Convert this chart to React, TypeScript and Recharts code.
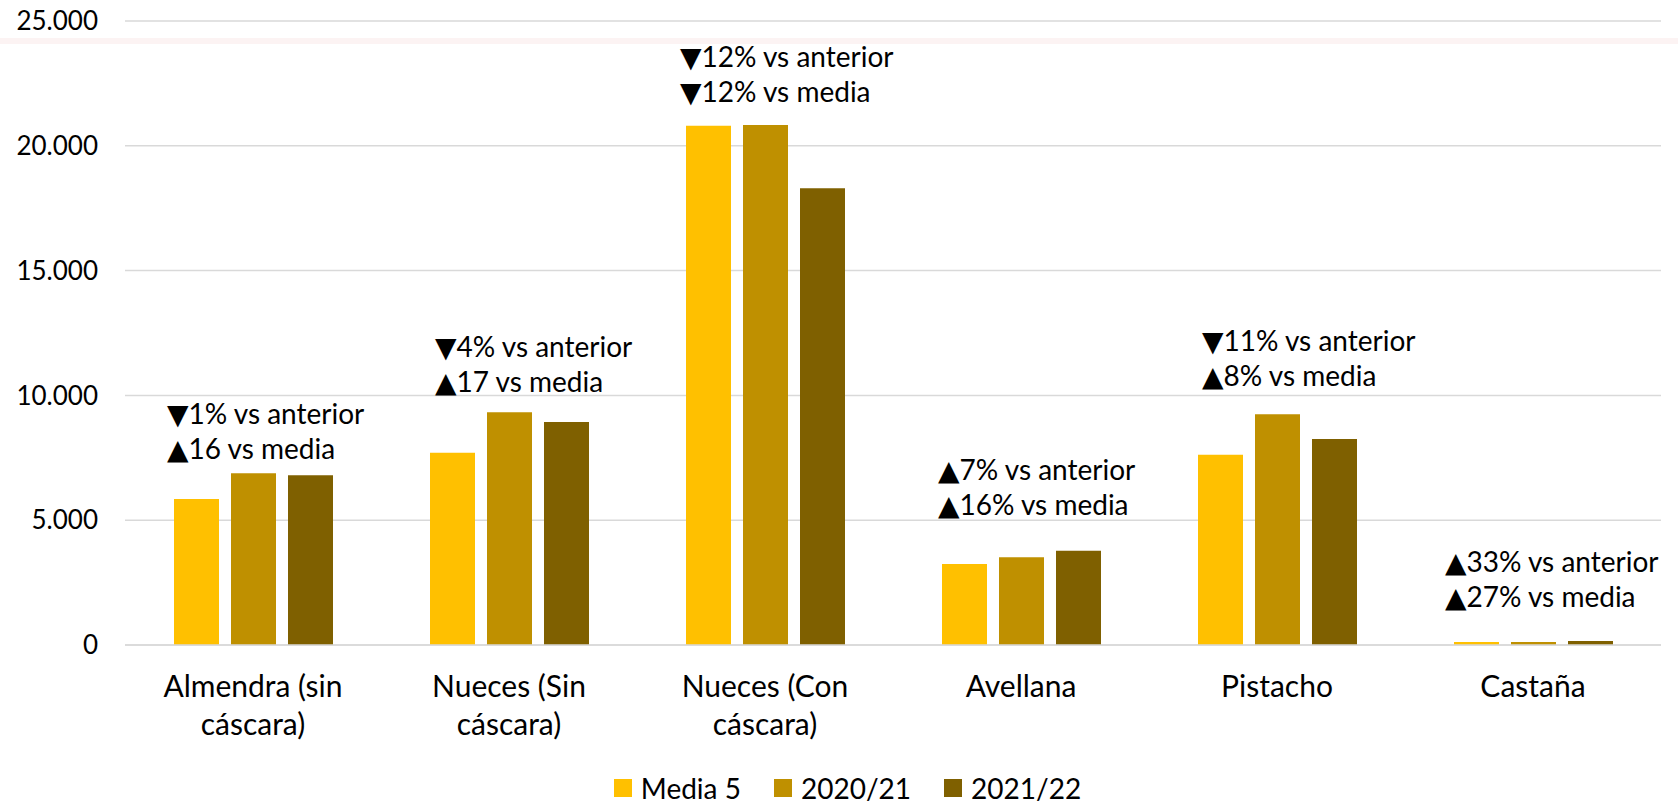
import React from "react";
import {
  BarChart,
  Bar,
  XAxis,
  YAxis,
  CartesianGrid,
  Legend,
  ReferenceDot,
} from "recharts";

const categories = [
  "Almendra (sin cáscara)",
  "Nueces (Sin cáscara)",
  "Nueces (Con cáscara)",
  "Avellana",
  "Pistacho",
  "Castaña",
];
const media5 = [5850, 7700, 20800, 3250, 7620, 125];
const season2021 = [6880, 9320, 20830, 3520, 9240, 120];
const season2122 = [6800, 8930, 18300, 3780, 8250, 160];
const vsAnterior = [
  "▼1% vs anterior",
  "▼4% vs anterior",
  "▼12% vs anterior",
  "▲7% vs anterior",
  "▼11% vs anterior",
  "▲33% vs anterior",
];
const vsMedia = [
  "▲16 vs media",
  "▲17 vs media",
  "▼12% vs media",
  "▲16% vs media",
  "▲8% vs media",
  "▲27% vs media",
];
const yTicks = [0, 5000, 10000, 15000, 20000, 25000];

const series = [
  { key: "media", name: "Media 5", color: "#FFC000" },
  { key: "prev", name: "2020/21", color: "#BF9000" },
  { key: "curr", name: "2021/22", color: "#7F6000" },
];

// pixel nudges for the hand-placed notes (dx from group centre, dy from tallest bar)
const noteOffsets = [
  [-86, -24],
  [-74, -30],
  [-85, -33],
  [-83, -46],
  [-75, -38],
  [-88, -44],
];

const data = categories.map((name, i) => ({
  name,
  media: media5[i],
  prev: season2021[i],
  curr: season2122[i],
}));

const FONT = "Lato, 'DejaVu Sans', sans-serif";
const fmt = (v: number) => String(v).replace(/\B(?=(\d{3})+(?!\d))/g, ".");

function CategoryTick({ x, y, payload }: any) {
  const name: string = payload.value;
  const cut = name.includes("(") ? name.lastIndexOf(" ") : -1;
  const lines = cut > 0 ? [name.slice(0, cut), name.slice(cut + 1)] : [name];
  return (
    <text x={x} y={y} textAnchor="middle" fontSize={30} fill="#000" fontFamily={FONT}>
      {lines.map((l, i) => (
        <tspan key={i} x={x} dy={i === 0 ? 52 : 38}>
          {l}
        </tspan>
      ))}
    </text>
  );
}

function Note({ viewBox, i }: any) {
  const [dx, dy] = noteOffsets[i];
  const x = viewBox.x + dx;
  const y2 = viewBox.y + dy + 10;
  return (
    <text x={x} y={y2 - 35} fontSize={28} fill="#000" fontFamily={FONT}>
      <tspan x={x}>{vsAnterior[i]}</tspan>
      <tspan x={x} dy={35}>
        {vsMedia[i]}
      </tspan>
    </text>
  );
}

function LegendContent() {
  return (
    <div
      style={{
        display: "flex",
        justifyContent: "center",
        alignItems: "center",
        gap: 33,
        height: 30,
        lineHeight: "30px",
        transform: "translateX(17px)",
        fontSize: 28,
        fontFamily: FONT,
        color: "#000",
      }}
    >
      {series.map((s) => (
        <span key={s.key} style={{ display: "flex", alignItems: "center" }}>
          <span
            style={{ width: 18, height: 18, background: s.color, marginRight: 9, display: "inline-block" }}
          />
          {s.name}
        </span>
      ))}
    </div>
  );
}

export default function App() {
  return (
    <div style={{ position: "absolute", left: 0, top: 0, width: 1678, height: 803, background: "#fff" }}>
      <BarChart
        width={1678}
        height={803}
        data={data}
        margin={{ top: 21, right: 17, left: 0, bottom: 0 }}
        barGap={12}
        style={{ fontFamily: FONT }}
      >
        <CartesianGrid vertical={false} stroke="#d9d9d9" strokeWidth={1.5} />
        <XAxis
          dataKey="name"
          interval={0}
          tickLine={false}
          tickSize={0}
          tickMargin={0}
          height={128}
          tick={<CategoryTick />}
          axisLine={{ stroke: "#d9d9d9", strokeWidth: 1.5 }}
        />
        <YAxis
          width={125}
          domain={[0, 25000]}
          ticks={yTicks}
          tickFormatter={fmt}
          axisLine={false}
          tickLine={false}
          tickSize={0}
          tickMargin={27}
          tick={{ fill: "#000", fontSize: 26, fontFamily: FONT }}
        />
        <Legend verticalAlign="bottom" height={30} content={<LegendContent />} />
        {series.map((s) => (
          <Bar
            key={s.key}
            dataKey={s.key}
            name={s.name}
            fill={s.color}
            barSize={45}
            isAnimationActive={false}
          />
        ))}
        {categories.map((c, i) => (
          <ReferenceDot
            key={c}
            x={c}
            y={Math.max(media5[i], season2021[i], season2122[i])}
            r={0}
            fill="none"
            stroke="none"
            ifOverflow="visible"
            label={(p: any) => <Note viewBox={p.viewBox} i={i} />}
          />
        ))}
      </BarChart>
      <div
        style={{
          position: "absolute",
          left: 0,
          top: 38,
          width: 1678,
          height: 6,
          background: "#fcf3f3",
          pointerEvents: "none",
        }}
      />
    </div>
  );
}
